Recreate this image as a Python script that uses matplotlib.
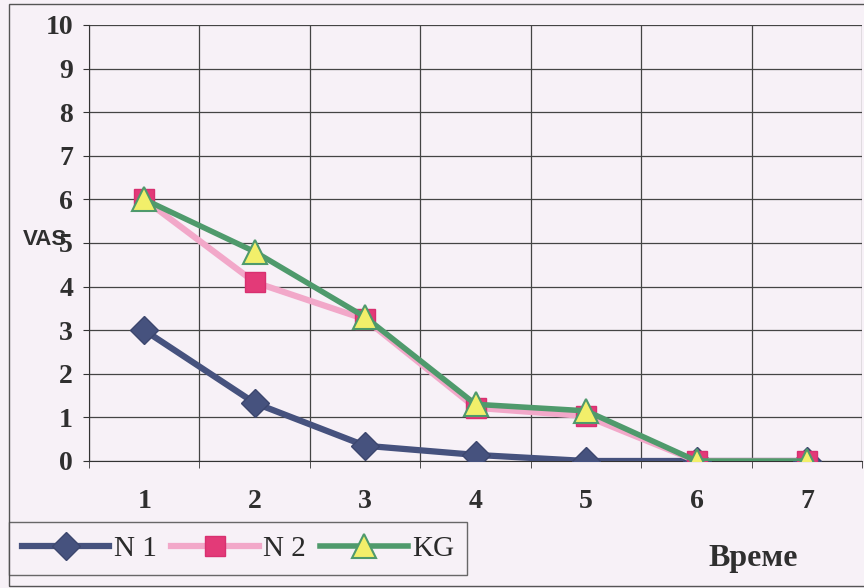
import matplotlib
matplotlib.use("Agg")
import matplotlib.pyplot as plt
import numpy as np
from matplotlib.patches import Rectangle

# data
times = [1, 2, 3, 4, 5, 6, 7]
n1 = [3.0, 1.33, 0.35, 0.14, 0.0, 0.0, 0.0]
n2 = [6.0, 4.1, 3.25, 1.22, 1.03, 0.0, 0.0]
kg = [6.0, 4.8, 3.3, 1.3, 1.15, 0.0, 0.0]
yticks = list(range(0, 11))

bg = "#f7f1f7"
serif = "Liberation Serif"

fig = plt.figure(figsize=(8.64, 5.88), dpi=100, facecolor=bg)
ax = fig.add_axes([0.103, 0.216, 0.895, 0.7415])
ax.set_facecolor(bg)

# outer frame of the chart
fig.patches.append(Rectangle((0.010, 0.004), 1.2, 0.99, transform=fig.transFigure,
                             fill=False, edgecolor="#555555", lw=1.0))

ax.plot(times, n1, color="#46527e", lw=4.5, marker="D", ms=14,
        mfc="#46527e", mec="#3c466e", label="N 1", zorder=3)
ax.plot(times, n2, color="#f2a8c9", lw=4.5, marker="s", ms=15,
        mfc="#e33a78", mec="#d83070", label="N 2", zorder=4)
ax.plot(times, kg, color="#4f9a6c", lw=4, marker="^", ms=17,
        mfc="#f2ef6a", mec="#4f9a6c", mew=1.5, label="KG", zorder=5)

ax.set_xlim(0.5, 7.5)
ax.set_ylim(0, 10)
ax.set_xticks(times)
ax.set_xticks(np.arange(0.5, 8, 1), minor=True)
ax.set_yticks(yticks)
ax.tick_params(axis="x", which="major", length=0, pad=20)
ax.tick_params(axis="x", which="minor", length=5, direction="out", color="#333333")
ax.tick_params(axis="y", length=4.5, direction="out", color="#333333", pad=7)
ax.grid(True, which="minor", axis="x", color="#444444", lw=0.9)
ax.grid(True, which="major", axis="y", color="#444444", lw=0.9)
ax.set_axisbelow(True)
for lbl in ax.get_xticklabels() + ax.get_yticklabels():
    lbl.set_fontfamily(serif)
    lbl.set_fontweight("bold")
    lbl.set_fontsize(20)
    lbl.set_color("#2f2f2f")
for side in ["top", "right"]:
    ax.spines[side].set_visible(False)
ax.spines["left"].set_color("#333333")
ax.spines["bottom"].set_color("#333333")

fig.text(0.027, 0.592, "VAS", family="Liberation Sans", weight="bold",
         fontsize=16, color="#2f2f2f", va="center")
fig.text(0.872, 0.051, "Време", family=serif, weight="bold",
         fontsize=23, color="#2f2f2f", ha="center", va="center")

leg = fig.legend(loc="lower left", bbox_to_anchor=(0.010, 0.022), ncol=3,
                 frameon=True, fancybox=False, handlelength=3.0,
                 handletextpad=0.15, columnspacing=0.5, borderpad=0.45,
                 borderaxespad=0, prop={"family": serif, "size": 21})
leg.get_frame().set_edgecolor("#444444")
leg.get_frame().set_facecolor(bg)
leg.get_frame().set_linewidth(1.0)
for t in leg.get_texts():
    t.set_color("#2a2a2a")

fig.savefig("out.png", dpi=100, facecolor=bg)
